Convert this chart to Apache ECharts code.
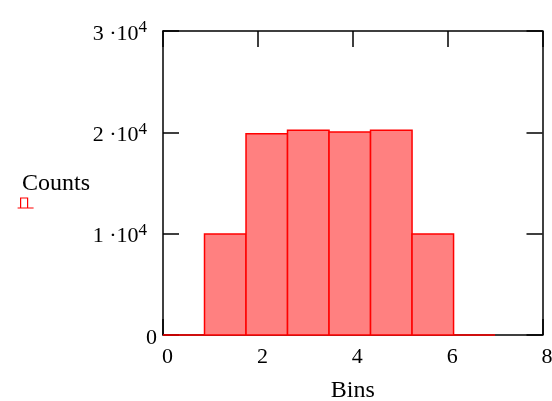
<!DOCTYPE html>
<html>
	<head>
		<meta charset="UTF-8">
		<title>Counts</title>
		<style>
			html, body { margin: 0; padding: 0; background: #fff; }
			#chart { width: 552px; height: 401px; }
		</style>
	</head>
	<body>
		<div id="chart"></div>
		<script src="https://cdn.jsdelivr.net/npm/echarts@6/dist/echarts.min.js"></script>
		<script>
			// 直方图数据：每个柱子的左右边界和计数
			var binEdges = [0, 0.875, 1.75, 2.625, 3.5, 4.375, 5.25, 6.125, 7];
			var counts = [0, 9970, 19870, 20200, 20040, 20200, 9970, 0];
			var xTicks = [0, 2, 4, 6, 8];
			var yTicks = [0, 10000, 20000, 30000];

			var chart = echarts.init(document.getElementById('chart'));
			var font = 'Liberation Serif';

			var barData = counts.map(function(c, i) {
				return [binEdges[i], binEdges[i + 1], c];
			});

			var axisLine = { show: true, onZero: false, lineStyle: { color: '#000', width: 1.5 } };
			var axisTick = { show: true, inside: true, length: 16, lineStyle: { color: '#000', width: 1.5 } };

			var option = {
				animation: false,
				backgroundColor: '#fff',
				grid: { left: 163, right: 9.5, top: 31, bottom: 66, outerBoundsMode: 'none', containLabel: false },
				legend: {
					left: 17,
					top: 172,
					padding: 0,
					itemWidth: 16,
					itemHeight: 11,
					data: [{ name: 'Counts', icon: 'path://M3,0L10,0L10,10L3,10Z M0,10L16,10' }],
					itemStyle: { color: 'transparent', borderColor: '#ff0000', borderWidth: 1.2 },
					formatter: '{t|{name}}',
					textStyle: {
						fontFamily: font, fontSize: 24, color: '#000', padding: [0, 0, 0, -16.5],
						rich: { t: { fontFamily: font, fontSize: 24, color: '#000', padding: [0, 0, 38, 0] } }
					}
				},
				xAxis: [{
					type: 'value',
					min: xTicks[0],
					max: xTicks[xTicks.length - 1],
					interval: 2,
					name: 'Bins',
					nameLocation: 'middle',
					nameGap: 44,
					nameTextStyle: { fontFamily: font, fontSize: 24, color: '#000' },
					axisLine: axisLine,
					axisTick: axisTick,
					splitLine: { show: false },
					axisLabel: { fontFamily: font, fontSize: 22, color: '#000', margin: 11, padding: [0, 0, 0, 9] }
				}, {
					type: 'value',
					position: 'top',
					min: xTicks[0],
					max: xTicks[xTicks.length - 1],
					interval: 2,
					axisLine: axisLine,
					axisTick: axisTick,
					splitLine: { show: false },
					axisLabel: { show: false }
				}],
				yAxis: [{
					type: 'value',
					min: yTicks[0],
					max: yTicks[yTicks.length - 1],
					interval: 10000,
					axisLine: axisLine,
					axisTick: axisTick,
					splitLine: { show: false },
					axisLabel: {
						margin: 6,
						color: '#000',
						fontFamily: font,
						fontSize: 22,
						formatter: function(v) {
							if (v === 0) return '{m|0}';
							return '{m|' + (v / 10000) + ' \u00b710}{e|4}';
						},
						rich: {
							m: { fontFamily: font, fontSize: 22, color: '#000', padding: [6, 0, 0, 0] },
							e: { fontFamily: font, fontSize: 17, color: '#000', padding: [0, 10, 6, 0] }
						}
					}
				}, {
					type: 'value',
					position: 'right',
					min: yTicks[0],
					max: yTicks[yTicks.length - 1],
					interval: 10000,
					axisLine: axisLine,
					axisTick: axisTick,
					splitLine: { show: false },
					axisLabel: { show: false }
				}],
				series: [{
					name: 'Counts',
					type: 'custom',
					xAxisIndex: 0,
					yAxisIndex: 0,
					itemStyle: { color: '#ff0000' },
					encode: { x: [0, 1], y: 2 },
					renderItem: function(params, api) {
						var p0 = api.coord([api.value(0), 0]);
						var p1 = api.coord([api.value(1), api.value(2)]);
						return {
							type: 'rect',
							shape: { x: p0[0], y: p1[1], width: p1[0] - p0[0], height: p0[1] - p1[1] },
							style: { fill: '#ff8080', stroke: '#ff0000', lineWidth: 1.5 }
						};
					},
					data: barData
				}]
			};
			chart.setOption(option);
		</script>
	</body>
</html>
